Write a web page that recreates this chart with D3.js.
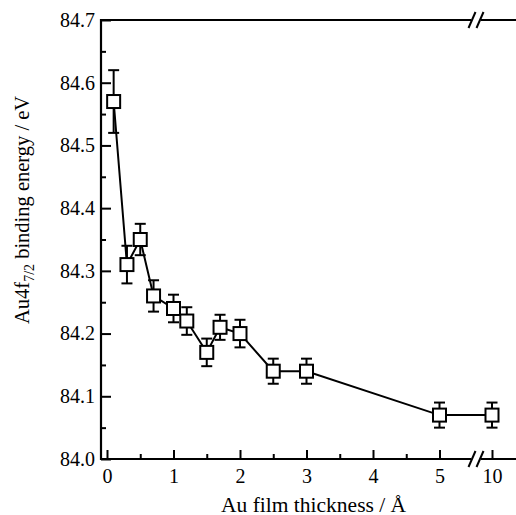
<!DOCTYPE html>
<html>
<head>
<meta charset="utf-8">
<script src="https://cdn.jsdelivr.net/npm/d3@7"></script>
<style>
  body { margin: 0; background: #fff; }
  svg text { font-family: "Liberation Serif", "Times New Roman", Times, Tinos, "DejaVu Serif", "Noto Serif", serif !important; }
</style>
</head>
<body>
<div id="chart"></div>
<script>
// Au 4f7/2 binding energy vs film thickness
var thickness = [0.1, 0.3, 0.5, 0.7, 1.0, 1.2, 1.5, 1.7, 2.0, 2.5, 3.0, 5.0, 10];
var energy    = [84.57, 84.31, 84.35, 84.26, 84.24, 84.22, 84.17, 84.21, 84.20, 84.14, 84.14, 84.07, 84.07];
var errUp     = [0.05, 0.03, 0.025, 0.025, 0.022, 0.022, 0.022, 0.02, 0.022, 0.02, 0.02, 0.02, 0.02];
var errDown   = [0.05, 0.03, 0.025, 0.025, 0.022, 0.022, 0.022, 0.02, 0.022, 0.02, 0.02, 0.02, 0.02];
var xTicks = [0, 1, 2, 3, 4, 5, 10];
var xMinor = [0.5, 1.5, 2.5, 3.5, 4.5];
var yTicks = [84.0, 84.1, 84.2, 84.3, 84.4, 84.5, 84.6, 84.7];
var yMinor = [84.05, 84.15, 84.25, 84.35, 84.45, 84.55, 84.65];

var width = 516, height = 515;
var plot = { left: 101, right: 516, top: 20, bottom: 459 };
var breakX = 476;

var data = thickness.map(function(t, i) {
  return { x: t, y: energy[i], hi: energy[i] + errUp[i], lo: energy[i] - errDown[i] };
});

// broken axis: 0-5 linear, then jump to 10
var x = d3.scaleLinear().domain([0, 5, 10]).range([107, 439.5, 492]);
var y = d3.scaleLinear().domain([84.0, 84.7]).range([plot.bottom, plot.top]);

var svg = d3.select('#chart').append('svg')
  .attr('width', width)
  .attr('height', height);

// x axis
var xAxis = svg.append('g')
  .attr('transform', 'translate(0,' + plot.bottom + ')')
  .call(d3.axisBottom(x).tickValues(xTicks).tickSize(-9).tickFormat(d3.format('d')));
xAxis.attr('font-family', null);
xAxis.select('.domain').remove();
xAxis.selectAll('.tick line').attr('stroke-width', 2);
xAxis.selectAll('.tick text').attr('font-size', 20).attr('dy', 0).attr('y', 24);

var xAxisMinor = svg.append('g')
  .attr('transform', 'translate(0,' + plot.bottom + ')')
  .call(d3.axisBottom(x).tickValues(xMinor).tickSize(-5).tickFormat(''));
xAxisMinor.select('.domain').remove();
xAxisMinor.selectAll('.tick line').attr('stroke-width', 2);

// y axis
var yAxis = svg.append('g')
  .attr('transform', 'translate(' + plot.left + ',0)')
  .call(d3.axisLeft(y).tickValues(yTicks).tickSize(-10).tickFormat(d3.format('.1f')));
yAxis.attr('font-family', null);
yAxis.select('.domain').remove();
yAxis.selectAll('.tick line').attr('stroke-width', 2);
yAxis.selectAll('.tick text').attr('font-size', 20).attr('x', -6);

var yAxisMinor = svg.append('g')
  .attr('transform', 'translate(' + plot.left + ',0)')
  .call(d3.axisLeft(y).tickValues(yMinor).tickSize(-5).tickFormat(''));
yAxisMinor.select('.domain').remove();
yAxisMinor.selectAll('.tick line').attr('stroke-width', 2);

// frame lines
svg.append('line').attr('x1', plot.left).attr('x2', plot.left).attr('y1', plot.top - 1).attr('y2', plot.bottom + 1)
  .attr('stroke', '#000').attr('stroke-width', 2.2);
[plot.top, plot.bottom].forEach(function(yy) {
  svg.append('line').attr('x1', plot.left - 1).attr('x2', plot.right).attr('y1', yy).attr('y2', yy)
    .attr('stroke', '#000').attr('stroke-width', 2.2);
  // break marks
  svg.append('rect').attr('x', breakX - 5).attr('y', yy - 4).attr('width', 10).attr('height', 8).attr('fill', '#fff');
  [-4, 4].forEach(function(dx) {
    svg.append('line')
      .attr('x1', breakX + dx - 3.5).attr('y1', yy + 8)
      .attr('x2', breakX + dx + 3.5).attr('y2', yy - 8)
      .attr('stroke', '#000').attr('stroke-width', 2);
  });
});

// connecting line
svg.append('path')
  .datum(data)
  .attr('fill', 'none')
  .attr('stroke', '#000')
  .attr('stroke-width', 2)
  .attr('d', d3.line().x(function(d) { return x(d.x); }).y(function(d) { return y(d.y); }));

// error bars
var eb = svg.append('g').selectAll('g').data(data).enter().append('g')
  .attr('stroke', '#000').attr('stroke-width', 2);
eb.append('line')
  .attr('x1', function(d) { return x(d.x); }).attr('x2', function(d) { return x(d.x); })
  .attr('y1', function(d) { return y(d.hi); }).attr('y2', function(d) { return y(d.lo); });
eb.append('line')
  .attr('x1', function(d) { return x(d.x) - 5.5; }).attr('x2', function(d) { return x(d.x) + 5.5; })
  .attr('y1', function(d) { return y(d.hi); }).attr('y2', function(d) { return y(d.hi); });
eb.append('line')
  .attr('x1', function(d) { return x(d.x) - 5.5; }).attr('x2', function(d) { return x(d.x) + 5.5; })
  .attr('y1', function(d) { return y(d.lo); }).attr('y2', function(d) { return y(d.lo); });

// square markers
svg.append('g').selectAll('rect').data(data).enter().append('rect')
  .attr('x', function(d) { return x(d.x) - 6.5; })
  .attr('y', function(d) { return y(d.y) - 6.5; })
  .attr('width', 13).attr('height', 13)
  .attr('fill', '#fff').attr('stroke', '#000').attr('stroke-width', 2);

// axis titles
svg.append('text')
  .attr('x', 221).attr('y', 512)
  .attr('font-size', 21.5)
  .text('Au film thickness / Å');

var yl = svg.append('text')
  .attr('transform', 'translate(29,324) rotate(-90)')
  .attr('font-size', 20.5);
yl.append('tspan').text('Au4f');
yl.append('tspan').attr('font-size', 14).attr('dy', 5).text('7/2');
yl.append('tspan').attr('dy', -5).text(' binding energy / eV');
</script>
</body>
</html>
